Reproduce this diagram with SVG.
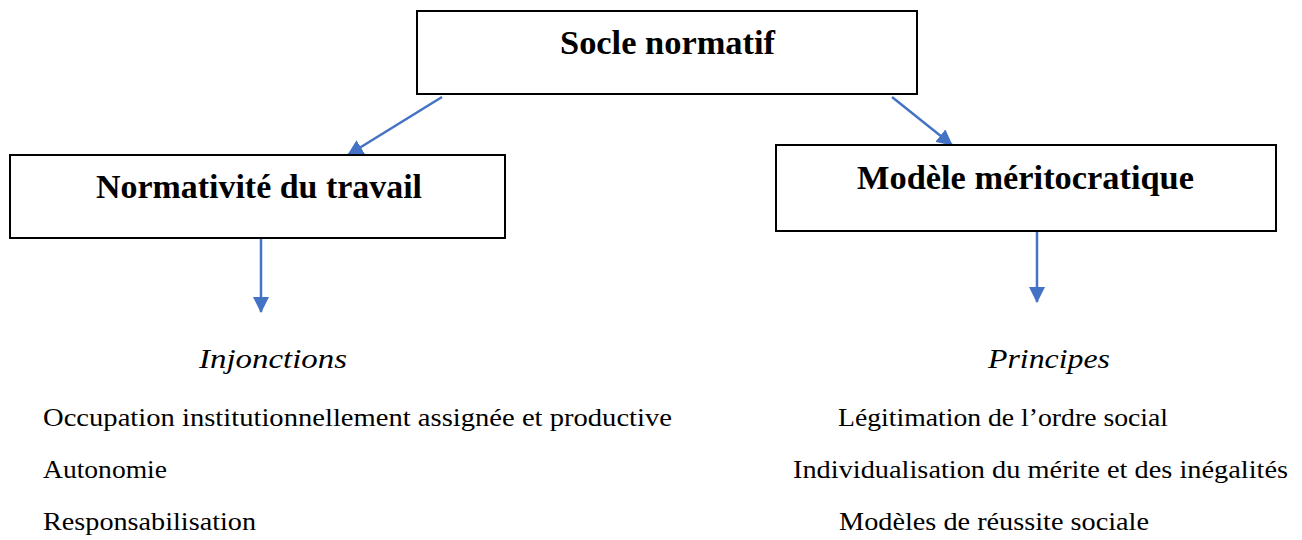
<svg xmlns="http://www.w3.org/2000/svg" width="1302" height="540" viewBox="0 0 1302 540">
<style>
.box{fill:#fff;stroke:#000;stroke-width:2}
.title{font-family:"Liberation Serif",serif;font-weight:bold;font-size:33px;fill:#000}
.head{font-family:"Liberation Serif",serif;font-style:italic;font-size:27px;fill:#000}
.item{font-family:"Liberation Serif",serif;font-size:26px;fill:#000}
.conn{stroke:#4472C4;stroke-width:2.5;fill:none;marker-end:url(#arr)}
</style>
<defs>
<marker id="arr" markerUnits="userSpaceOnUse" markerWidth="16" markerHeight="16" viewBox="0 0 15 15" refX="14" refY="7.5" orient="auto">
<path d="M0,0 L15,7.5 L0,15 z" fill="#4472C4"/>
</marker>
</defs>
<g id="connectors">
<line class="conn" x1="442" y1="97" x2="348" y2="155"/>
<line class="conn" x1="892" y1="97" x2="952" y2="145"/>
<line class="conn" x1="261" y1="239" x2="261" y2="312"/>
<line class="conn" x1="1037" y1="232" x2="1037" y2="302"/>
</g>
<g id="socle">
<rect class="box" x="417" y="11" width="500" height="83"/>
<text class="title" x="560" y="54" textLength="215" lengthAdjust="spacingAndGlyphs">Socle normatif</text>
</g>
<g id="normativite">
<rect class="box" x="10" y="155" width="495" height="83"/>
<text class="title" x="96" y="198" textLength="326" lengthAdjust="spacingAndGlyphs">Normativité du travail</text>
</g>
<g id="modele">
<rect class="box" x="776" y="145" width="500" height="86"/>
<text class="title" x="857" y="189" textLength="337" lengthAdjust="spacingAndGlyphs">Modèle méritocratique</text>
</g>
<g id="injonctions">
<text class="head" x="199" y="368" textLength="148" lengthAdjust="spacingAndGlyphs">Injonctions</text>
<text class="item" x="43" y="426" textLength="629" lengthAdjust="spacingAndGlyphs">Occupation institutionnellement assignée et productive</text>
<text class="item" x="43" y="478" textLength="124" lengthAdjust="spacingAndGlyphs">Autonomie</text>
<text class="item" x="43" y="530" textLength="213" lengthAdjust="spacingAndGlyphs">Responsabilisation</text>
</g>
<g id="principes">
<text class="head" x="988" y="368" textLength="122" lengthAdjust="spacingAndGlyphs">Principes</text>
<text class="item" x="838" y="426" textLength="330" lengthAdjust="spacingAndGlyphs">Légitimation de l’ordre social</text>
<text class="item" x="793" y="478" textLength="495" lengthAdjust="spacingAndGlyphs">Individualisation du mérite et des inégalités</text>
<text class="item" x="839" y="530" textLength="310" lengthAdjust="spacingAndGlyphs">Modèles de réussite sociale</text>
</g>
</svg>
